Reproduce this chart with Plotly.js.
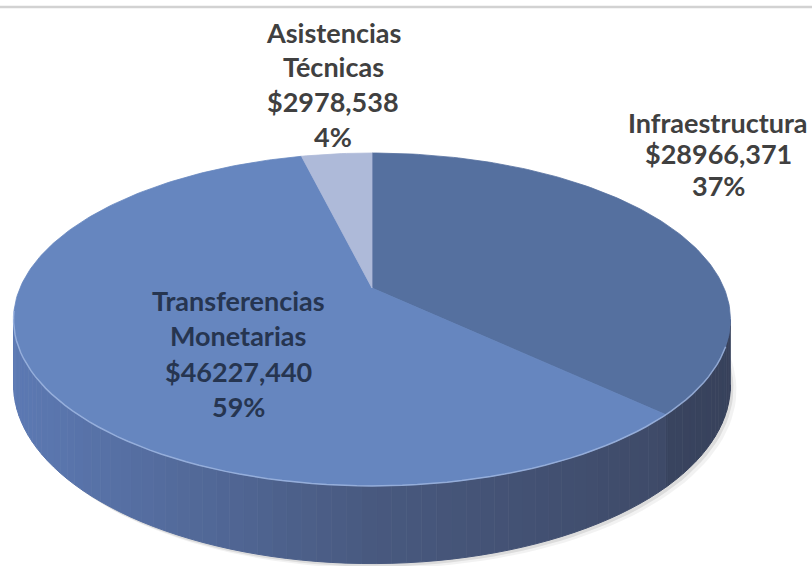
<!DOCTYPE html>
<html>
<head>
<meta charset="utf-8">
<script src="https://cdn.plot.ly/plotly-3.0.1.min.js"></script>
<style>html,body{margin:0;padding:0;background:#fff;}#chart{width:812px;height:566px;}</style>
</head>
<body>
<div id="chart"></div>
<script>
// ---- data ----
const categories = ['Infraestructura', 'Transferencias Monetarias', 'Asistencias Técnicas'];
const labelLines = [['Infraestructura'], ['Transferencias', 'Monetarias'], ['Asistencias', 'Técnicas']];
const amounts = [28966371, 46227440, 2978538];
const amountLabels = ['$28966,371', '$46227,440', '$2978,538'];

// ---- style / layout constants ----
const topColors = ['#55709F', '#6686BF', '#AEBAD9'];
const sideDarken = [0.92, 1.0, 1.0];
const labelPos = [
  {x: 718, y0: 122, dy: 31.5, c: '#404040'},
  {x: 238, y0: 300, dy: 35.5, c: '#263550'},
  {x: 333, y0: 32, dy: 34.7, c: '#404040'}
];
// perspective disc: projected centre (x0,y0), scale A,B, perspective k, wall height D
const G = {x0: 372, y0: 288, A: 352, B: 160.5, k: -0.189, D: 63};

function pt(thetaDeg, wall) {
  const t = thetaDeg * Math.PI / 180;
  const u = Math.sin(t), v = -Math.cos(t);
  const den = 1 + G.k * v;
  return [G.x0 + G.A * u / den, G.y0 + G.B * v / den + (wall ? G.D / den : 0)];
}
function hex2rgb(h) { return [1, 3, 5].map(i => parseInt(h.substr(i, 2), 16)); }
function mix(a, b, f) { return a.map((v, i) => v + (b[i] - v) * f); }
function rgbStr(c, k) { return 'rgb(' + c.map(v => Math.round(v * (k || 1))).join(',') + ')'; }
const sideL = hex2rgb('#5C79B3'), sideM = hex2rgb('#48597F'), sideR = hex2rgb('#3C4763');
const xMin = pt(259.1)[0], xMax = pt(100.9)[0];
function sideColor(x, k) {
  const f = Math.min(1, Math.max(0, (x - xMin) / (xMax - xMin)));
  const c = f < 0.5 ? mix(sideL, sideM, f / 0.5) : mix(sideM, sideR, (f - 0.5) / 0.5);
  return rgbStr(c, k);
}

const total = amounts.reduce((a, b) => a + b, 0);
const traces = [];

// soft shadow
[[6, 5, 0.05], [3, 3, 0.09]].forEach(s => {
  const xs = [], ys = [];
  for (let a = 0; a <= 360; a += 2) { const p = pt(a, true); xs.push(p[0] + s[0]); ys.push(p[1] + s[1]); }
  traces.push({type: 'scatter', mode: 'lines', x: xs, y: ys, fill: 'toself', fillcolor: 'rgba(0,0,0,' + s[2] + ')', line: {width: 0}, hoverinfo: 'skip'});
});

// slice angles (clockwise from 12 o'clock)
let acc = 0;
const slices = amounts.map((v, i) => { const a0 = acc / total * 360; acc += v; return {a0: a0, a1: acc / total * 360, i: i}; });

// side walls (visible front half only)
const visLo = 100.9, visHi = 259.1;
slices.forEach(s => {
  const lo = Math.max(s.a0, visLo), hi = Math.min(s.a1, visHi);
  if (hi <= lo) return;
  const step = 2;
  for (let a = lo; a < hi - 1e-9; a += step) {
    const b = Math.min(a + step, hi);
    const xs = [], ys = [];
    const n = 3;
    for (let j = 0; j <= n; j++) { const p = pt(a + (b - a) * j / n, false); xs.push(p[0]); ys.push(p[1]); }
    for (let j = n; j >= 0; j--) { const p = pt(a + (b - a) * j / n, true); xs.push(p[0]); ys.push(p[1]); }
    const col = sideColor(pt((a + b) / 2)[0], sideDarken[s.i]);
    traces.push({type: 'scatter', mode: 'lines', x: xs, y: ys, fill: 'toself', fillcolor: col, line: {width: 1, color: col}, hoverinfo: 'skip'});
  }
});

// top faces
slices.forEach(s => {
  const xs = [G.x0], ys = [G.y0];
  const n = Math.max(4, Math.ceil(s.a1 - s.a0));
  for (let j = 0; j <= n; j++) { const p = pt(s.a0 + (s.a1 - s.a0) * j / n); xs.push(p[0]); ys.push(p[1]); }
  xs.push(G.x0); ys.push(G.y0);
  traces.push({type: 'scatter', mode: 'lines', x: xs, y: ys, fill: 'toself', fillcolor: topColors[s.i], line: {width: 0.8, color: topColors[s.i]}, hoverinfo: 'skip', name: categories[s.i]});
});

// rim highlight on front edge
(function () {
  const xs = [], ys = [];
  for (let a = 110; a <= 262; a += 2) { const p = pt(a); xs.push(p[0]); ys.push(p[1]); }
  traces.push({type: 'scatter', mode: 'lines', x: xs, y: ys, line: {width: 1.5, color: 'rgba(165,188,230,0.75)'}, hoverinfo: 'skip'});
})();

const annotations = [];
slices.forEach(s => {
  const pct = Math.round(amounts[s.i] / total * 100) + '%';
  const lp = labelPos[s.i];
  const lines = labelLines[s.i].concat([amountLabels[s.i], pct]);
  lines.forEach((t, j) => {
    annotations.push({
      x: lp.x, y: lp.y0 + j * lp.dy, xref: 'x', yref: 'y', showarrow: false,
      xanchor: 'center', yanchor: 'middle', align: 'center',
      text: '<b>' + t + '</b>',
      font: {family: 'Lato, "Open Sans", sans-serif', size: 27, color: lp.c}
    });
  });
});

const layout = {
  width: 812, height: 566,
  margin: {l: 0, r: 0, t: 0, b: 0},
  paper_bgcolor: '#ffffff', plot_bgcolor: '#ffffff',
  showlegend: false,
  xaxis: {range: [0, 812], visible: false, fixedrange: true},
  yaxis: {range: [566, 0], visible: false, fixedrange: true},
  shapes: [{type: 'line', xref: 'paper', yref: 'y', x0: 0, x1: 1, y0: 7, y1: 7, line: {color: '#D2D2D2', width: 2.5}}],
  annotations: annotations
};

Plotly.newPlot('chart', traces, layout, {staticPlot: true, displayModeBar: false});
</script>
</body>
</html>
